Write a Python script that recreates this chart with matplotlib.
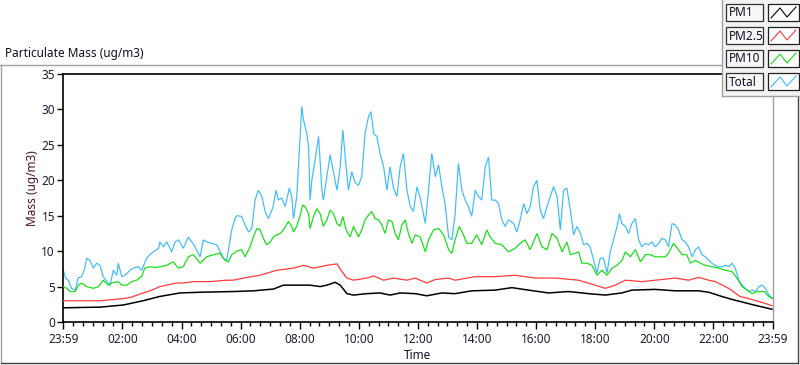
import matplotlib
matplotlib.use("Agg")
import matplotlib.pyplot as plt
from matplotlib.patches import Rectangle
from matplotlib.lines import Line2D
from matplotlib.ticker import MultipleLocator

plt.rcParams['font.family'] = ['Noto Sans', 'DejaVu Sans']

# ---------------- data (hours since 23:59 of the previous day) ----------------
total_t = [0.0, 0.08, 0.17, 0.28, 0.4, 0.5, 0.62, 0.73, 0.79, 0.9, 1.02, 1.13, 1.24, 1.35, 1.53, 1.58,
           1.69, 1.81, 1.86, 1.98, 2.09, 2.26, 2.37, 2.54, 2.65, 2.82, 2.93, 3.05, 3.22, 3.27, 3.39, 3.5,
           3.67, 3.78, 3.9, 4.06, 4.23, 4.35, 4.46, 4.63, 4.74, 4.85, 5.02, 5.19, 5.42, 5.53, 5.7, 5.81,
           5.87, 6.04, 6.15, 6.27, 6.38, 6.49, 6.6, 6.72, 6.83, 6.94, 7.06, 7.11, 7.2, 7.28, 7.39, 7.51,
           7.65, 7.73, 7.79, 7.9, 7.99, 8.07, 8.13, 8.24, 8.3, 8.35, 8.41, 8.52, 8.64, 8.75, 8.8, 8.92,
           9.03, 9.14, 9.26, 9.37, 9.46, 9.54, 9.65, 9.76, 9.88, 9.99, 10.1, 10.21, 10.33, 10.41, 10.5,
           10.61, 10.72, 10.84, 10.95, 11.06, 11.17, 11.29, 11.4, 11.51, 11.63, 11.74, 11.85, 11.97,
           12.08, 12.25, 12.36, 12.47, 12.59, 12.7, 12.81, 12.92, 13.04, 13.15, 13.26, 13.37, 13.49,
           13.6, 13.71, 13.82, 13.94, 14.05, 14.16, 14.28, 14.39, 14.5, 14.62, 14.73, 14.84, 14.95,
           15.07, 15.24, 15.35, 15.46, 15.58, 15.69, 15.8, 15.91, 16.03, 16.14, 16.25, 16.37, 16.48,
           16.59, 16.71, 16.82, 16.93, 17.04, 17.16, 17.27, 17.38, 17.5, 17.61, 17.72, 17.83, 17.95,
           18.06, 18.17, 18.28, 18.4, 18.51, 18.62, 18.74, 18.82, 18.9, 19.02, 19.13, 19.24, 19.36,
           19.47, 19.58, 19.7, 19.81, 19.92, 20.03, 20.15, 20.26, 20.37, 20.48, 20.6, 20.71, 20.82,
           20.94, 21.05, 21.16, 21.28, 21.39, 21.5, 21.61, 21.73, 21.84, 21.95, 22.06, 22.18, 22.29,
           22.41, 22.52, 22.63, 22.74, 22.86, 22.97, 23.08, 23.2, 23.31, 23.42, 23.54, 23.65, 23.76,
           23.88, 23.99]
total_v = [7.3, 6.2, 5.9, 4.75, 4.5, 6.2, 6.4, 7.6, 9.0, 8.7, 7.6, 8.3, 8.0, 6.4, 5.5, 5.1,
           7.3, 6.6, 8.3, 6.4, 6.6, 7.3, 7.6, 7.8, 7.3, 9.0, 9.5, 9.9, 10.4, 11.3, 10.6, 11.3,
           9.9, 11.3, 11.6, 10.4, 12.0, 11.3, 10.6, 9.2, 11.6, 11.3, 11.1, 10.9, 9.0, 8.7, 13.0, 14.6,
           15.0, 14.9, 13.7, 12.7, 13.2, 17.2, 18.6, 17.7, 15.6, 14.6, 15.8, 16.5, 18.6, 17.2, 17.5, 16.3,
           18.9, 17.7, 14.6, 17.7, 24.3, 30.4, 28.5, 26.6, 24.7, 17.2, 20.0, 22.9, 26.2, 18.6, 17.2, 20.5,
           23.6, 21.2, 18.6, 21.9, 27.1, 23.3, 18.6, 21.2, 19.6, 19.3, 20.5, 26.6, 29.0, 29.7, 26.6,
           26.2, 23.8, 21.9, 18.6, 21.9, 18.9, 17.7, 21.9, 23.8, 18.6, 16.3, 15.6, 19.1,
           17.5, 13.9, 18.6, 23.8, 20.5, 22.2, 19.1, 16.7, 12.0, 11.6, 15.3, 22.4, 18.6,
           17.2, 16.3, 14.9, 18.6, 17.7, 17.2, 21.9, 23.3, 17.2, 17.2, 16.7, 14.4, 13.5,
           14.4, 13.9, 12.7, 14.4, 16.7, 15.3, 16.3, 19.1, 20.0, 15.8, 14.6, 16.3, 17.7,
           19.1, 17.7, 13.0, 18.6, 18.9, 15.8, 12.3, 13.5, 12.5, 10.9, 11.1, 10.6, 8.7,
           6.9, 9.0, 9.0, 6.9, 9.9, 11.6, 13.5, 15.3, 13.9, 13.5, 12.5, 13.9, 14.6,
           11.6, 10.6, 11.1, 10.9, 11.3, 10.6, 11.1, 11.8, 11.6, 10.6, 13.9, 13.7, 13.0,
           11.6, 11.3, 10.6, 9.2, 10.2, 10.6, 9.5, 9.2, 8.7, 8.3, 8.0, 7.8, 7.8,
           8.0, 7.8, 8.3, 7.6, 5.9, 5.2, 4.75, 4.3, 4.5, 4.3, 5.0, 5.2, 4.75,
           3.8, 3.4]

pm10_t = [0.0, 0.12, 0.23, 0.4, 0.51, 0.62, 0.79, 1.02, 1.19, 1.35, 1.52, 1.64, 1.86, 1.98, 2.15, 2.31,
          2.48, 2.65, 2.76, 2.93, 3.1, 3.27, 3.5, 3.72, 3.89, 4.06, 4.23, 4.4, 4.63, 4.85, 5.08, 5.3,
          5.47, 5.59, 5.7, 5.87, 6.04, 6.15, 6.32, 6.43, 6.55, 6.66, 6.77, 6.88, 7.0, 7.11, 7.22, 7.34,
          7.45, 7.62, 7.73, 7.79, 7.9, 8.02, 8.1, 8.18, 8.3, 8.35, 8.47, 8.58, 8.69, 8.8, 8.92, 9.03,
          9.14, 9.26, 9.37, 9.46, 9.57, 9.71, 9.82, 9.99, 10.1, 10.21, 10.33, 10.44, 10.55, 10.67,
          10.78, 10.89, 11.0, 11.12, 11.23, 11.34, 11.46, 11.57, 11.68, 11.8, 11.91, 12.08, 12.25,
          12.36, 12.53, 12.7, 12.87, 13.04, 13.15, 13.26, 13.4, 13.54, 13.66, 13.82, 13.99, 14.16,
          14.33, 14.45, 14.62, 14.84, 15.07, 15.29, 15.46, 15.63, 15.8, 16.03, 16.2, 16.37, 16.54,
          16.71, 16.88, 17.04, 17.16, 17.33, 17.44, 17.55, 17.72, 17.89, 18.06, 18.23, 18.4, 18.57,
          18.74, 18.91, 19.02, 19.19, 19.36, 19.53, 19.7, 19.87, 20.03, 20.2, 20.37, 20.48, 20.65,
          20.82, 20.94, 21.1, 21.22, 21.39, 21.56, 21.73, 21.95, 22.18, 22.41, 22.63, 22.8, 22.97,
          23.14, 23.31, 23.48, 23.71, 23.88, 23.99]
pm10_v = [5.0, 4.75, 4.3, 4.3, 5.2, 5.5, 5.0, 4.75, 5.0, 5.9, 5.2, 5.5, 5.7, 5.2, 5.2, 5.7,
          5.9, 6.4, 7.6, 7.8, 7.7, 7.8, 8.0, 8.5, 7.6, 7.8, 9.2, 9.5, 8.3, 9.2, 9.5, 9.7,
          8.7, 8.5, 9.5, 10.0, 10.2, 9.2, 10.6, 12.0, 13.2, 13.0, 11.8, 10.9, 11.3, 12.0, 12.3, 12.5,
          13.0, 14.2, 13.5, 12.7, 13.5, 15.1, 16.5, 16.3, 15.3, 13.2, 14.9, 16.0, 15.3, 13.5, 14.4, 15.8,
          15.3, 13.9, 13.5, 14.9, 13.0, 12.0, 13.5, 12.0, 13.0, 14.4, 15.1, 15.6, 14.6, 14.4,
          13.7, 12.5, 14.4, 14.2, 12.5, 11.6, 13.7, 14.4, 12.5, 11.1, 12.3, 12.0, 9.9,
          11.6, 13.0, 13.2, 12.3, 10.2, 9.7, 11.6, 13.5, 12.3, 11.1, 11.1, 12.3, 10.9,
          13.0, 12.0, 11.1, 10.9, 9.9, 10.4, 11.1, 11.6, 10.2, 12.5, 10.6, 10.2, 12.5,
          11.8, 9.9, 11.3, 9.5, 9.7, 9.9, 8.3, 8.3, 8.0, 6.6, 7.3, 6.6, 7.6,
          8.0, 8.7, 9.9, 9.2, 10.2, 8.5, 9.5, 9.5, 9.2, 9.2, 9.2, 9.7, 11.1,
          10.2, 9.5, 9.5, 8.3, 8.7, 8.3, 8.0, 7.8, 7.6, 7.3, 7.1, 6.2, 5.0,
          4.5, 4.0, 4.3, 4.3, 3.6, 3.3]

pm25_t = [0.0, 1.0, 1.25, 2.03, 2.3, 2.7, 2.94, 3.27, 3.84, 4.06, 4.4, 4.97, 5.53, 5.75, 6.1, 6.66,
          7.22, 7.79, 8.13, 8.47, 8.92, 9.26, 9.43, 9.6, 9.82, 10.27, 10.5, 10.84, 11.17, 11.63,
          11.91, 12.3, 12.59, 13.04, 13.26, 13.94, 14.62, 15.29, 15.97, 16.65, 17.44, 18.0, 18.34,
          18.68, 19.02, 19.58, 20.03, 20.71, 21.16, 21.5, 21.84, 22.06, 22.52, 22.9, 23.2, 23.7, 23.98]
pm25_v = [3.0, 3.0, 3.0, 3.3, 3.5, 4.1, 4.4, 5.0, 5.5, 5.5, 5.7, 5.7, 5.9, 5.9, 6.2, 6.6,
          7.3, 7.6, 8.0, 7.6, 8.0, 8.2, 7.1, 6.2, 5.9, 6.2, 6.5, 5.9, 6.2, 5.9,
          6.2, 5.5, 6.0, 6.2, 5.9, 6.4, 6.4, 6.6, 6.2, 6.2, 5.9, 5.2, 4.75,
          5.2, 5.9, 5.7, 5.9, 6.2, 5.9, 6.3, 5.9, 5.7, 4.75, 3.6, 3.3, 2.7, 2.3]

pm1_t = [0.0, 1.25, 2.03, 2.7, 3.26, 3.95, 4.63, 5.76, 6.44, 7.11, 7.45, 8.02, 8.35, 8.69, 8.92,
         9.2, 9.37, 9.6, 9.82, 10.27, 10.72, 11.06, 11.4, 11.91, 12.3, 12.81, 13.26, 13.82, 14.62,
         15.18, 15.74, 16.42, 17.1, 17.78, 18.34, 18.9, 19.24, 20.03, 20.71, 21.5, 21.84, 22.29,
         22.62, 22.9, 23.37, 23.98]
pm1_v = [2.0, 2.1, 2.4, 3.0, 3.6, 4.1, 4.2, 4.3, 4.4, 4.65, 5.2, 5.2, 5.2, 5.0, 5.2,
         5.6, 5.2, 4.0, 3.8, 4.0, 4.1, 3.8, 4.1, 4.0, 3.7, 4.1, 4.0, 4.4, 4.5,
         4.85, 4.5, 4.1, 4.3, 4.0, 3.8, 4.1, 4.5, 4.6, 4.4, 4.4, 4.2, 3.6,
         3.2, 2.9, 2.4, 1.8]

series_names = ["PM1", "PM2.5", "PM10", "Total"]
series_colors = ["#000000", "#ff3c3c", "#10e010", "#3cbcff"]

tick_hours = [0, 2, 4, 6, 8, 10, 12, 14, 16, 18, 20, 22, 24]
tick_labels = ["23:59", "02:00", "04:00", "06:00", "08:00", "10:00", "12:00",
               "14:00", "16:00", "18:00", "20:00", "22:00", "23:59"]

# ---------------- figure ----------------
W, H = 800, 365
fig = plt.figure(figsize=(W / 100, H / 100), dpi=100)
fig.patch.set_facecolor("white")

def fx(x):
    return x / W

def fy(y):
    return 1 - y / H

ax_l, ax_r, ax_t, ax_b = 63.3, 772.5, 74, 322
ax = fig.add_axes([fx(ax_l), fy(ax_b), (ax_r - ax_l) / W, (ax_b - ax_t) / H])

xs = [pm1_t, pm25_t, pm10_t, total_t]
ys = [pm1_v, pm25_v, pm10_v, total_v]
widths = [1.1, 0.9, 0.85, 0.85]
for i in [3, 2, 1, 0]:
    ax.plot(xs[i], ys[i], color=series_colors[i], lw=widths[i], solid_joinstyle='miter',
            zorder=2 + (3 - i))

ax.set_xlim(0, 24)
ax.set_ylim(0, 35)
ax.set_xticks(tick_hours)
ax.set_xticklabels(tick_labels)
ax.xaxis.set_minor_locator(MultipleLocator(1 / 3))
ax.yaxis.set_major_locator(MultipleLocator(5))

tick_color = "#1c1c2c"
ax.tick_params(axis='x', which='major', direction='out', length=5, width=1, colors='black',
               labelcolor=tick_color, labelsize=8.5, pad=3)
ax.tick_params(axis='x', which='minor', direction='out', length=3, width=1, colors='black')
ax.tick_params(axis='y', which='major', direction='out', length=4, width=1, colors='black',
               labelcolor=tick_color, labelsize=8.5, pad=2)

for s in ['left', 'bottom', 'top']:
    ax.spines[s].set_color('black')
    ax.spines[s].set_linewidth(1.2)
ax.spines['right'].set_color('#a0a0a0')
ax.spines['right'].set_linewidth(1.0)

ax.set_ylabel("Mass (ug/m3)", color="#4d1030", fontsize=8.5, labelpad=0)
ax.yaxis.set_label_coords(-(ax_l - 39) / (ax_r - ax_l), 0.54)
ax.set_xlabel("Time", color="#101028", fontsize=8.5, labelpad=2)

# ---------------- outer frame ----------------
gray = "#a0a0a0"
dark = "#404040"
fig.add_artist(Line2D([fx(0), fx(722)], [fy(64.5), fy(64.5)], color=gray, lw=1))
fig.add_artist(Line2D([fx(1), fx(1)], [fy(64.5), fy(363)], color=gray, lw=1))
fig.add_artist(Line2D([fx(1), fx(797.5)], [fy(363), fy(363)], color=dark, lw=1))
fig.add_artist(Line2D([fx(797.5), fx(797.5)], [fy(96), fy(363)], color=dark, lw=1))

fig.text(fx(5), fy(53), "Particulate Mass (ug/m3)", fontsize=8.5, color="#101020",
         ha='left', va='center')

# ---------------- custom legend ----------------
fig.add_artist(Rectangle((fx(722), fy(96)), fx(78), 96 / H, transform=fig.transFigure,
                         facecolor="#f2f2f2", edgecolor='none', zorder=5))
fig.add_artist(Line2D([fx(722), fx(722)], [fy(0), fy(96)], color=gray, lw=1, zorder=6))
fig.add_artist(Line2D([fx(722), fx(800)], [fy(96), fy(96)], color=gray, lw=1, zorder=6))

row_tops = [4, 27, 50, 73]
box_h = 17
for i, name in enumerate(series_names):
    top = row_tops[i]
    fig.add_artist(Rectangle((fx(726), fy(top + box_h)), fx(37), box_h / H,
                             transform=fig.transFigure, facecolor="#f7f7f7",
                             edgecolor="#303030", lw=0.9, zorder=7))
    fig.text(fx(729), fy(top + box_h / 2 + 0.5), name, fontsize=8.5, color="#101028",
             ha='left', va='center', zorder=8)
    fig.add_artist(Rectangle((fx(768), fy(top + box_h)), fx(30.5), box_h / H,
                             transform=fig.transFigure, facecolor="white",
                             edgecolor="#202020", lw=0.9, zorder=7))
    zx = [771, 780, 787, 796]
    zy = [top + 14, top + 4, top + 13, top + 3]
    fig.add_artist(Line2D([fx(v) for v in zx], [fy(v) for v in zy],
                          color=series_colors[i], lw=0.8, zorder=8))

fig.savefig("out.png", dpi=100)
